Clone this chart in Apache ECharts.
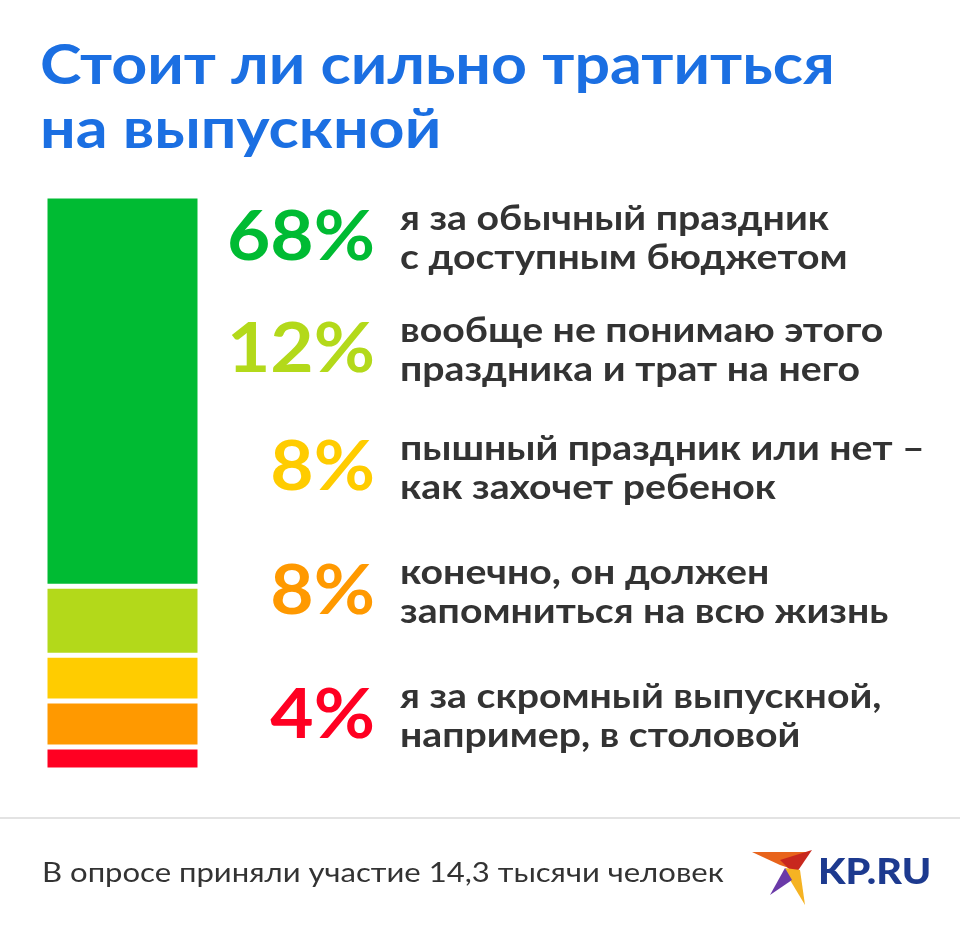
<!DOCTYPE html>
<html>
<head>
<meta charset="utf-8">
<script src="https://cdn.jsdelivr.net/npm/echarts@6/dist/echarts.min.js"></script>
<style>html,body{margin:0;padding:0;background:#fff}#main{width:960px;height:940px}</style>
</head>
<body>
<div id="main"></div>
<script>
var answers = [
  ['я за обычный праздник', 'с доступным бюджетом'],
  ['вообще не понимаю этого', 'праздника и трат на него'],
  ['пышный праздник или нет –', 'как захочет ребенок'],
  ['конечно, он должен', 'запомниться на всю жизнь'],
  ['я за скромный выпускной,', 'например, в столовой']
];
var values = [68, 12, 8, 8, 4];
var colors = ['#00bb33', '#b3d91a', '#ffcc00', '#ff9900', '#ff0022'];
var labelY = [238, 350, 468, 592, 716];

var myChart = echarts.init(document.getElementById('main'));

var series = values.map(function (v, i) {
  return {
    type: 'bar', stack: 'all', barWidth: '100%', silent: true,
    data: [v],
    itemStyle: { color: colors[i], borderColor: '#fff', borderWidth: 2.5 }
  };
});

var graphics = [
  { type: 'text', x: 40, y: 34, scaleX: 1.12, style: { x: 0, y: 0, text: 'Стоит ли сильно тратиться\nна выпускной', fill: '#1b6fe2', font: 'bold 56px Lato', lineHeight: 64 } },
  { type: 'rect', shape: { x: 0, y: 817, width: 960, height: 2 }, style: { fill: '#e3e3e3' } },
  { type: 'text', x: 42, y: 873, scaleX: 1.15, style: { x: 0, y: 0, text: 'В опросе приняли участие 14,3 тысячи человек', fill: '#333', font: '27px Lato', verticalAlign: 'middle' } },
  { type: 'text', x: 818, y: 872, scaleX: 1.1, style: { x: 0, y: 0, text: 'KP.RU', fill: '#1d3a8f', font: '900 36px Lato', verticalAlign: 'middle' } },
  { type: 'polygon', shape: { points: [[752, 852], [810, 852], [795, 870], [780, 865]] }, style: { fill: '#e8641c' } },
  { type: 'polygon', shape: { points: [[780, 860], [812, 850], [795, 875]] }, style: { fill: '#c8281e' } },
  { type: 'polygon', shape: { points: [[785, 868], [800, 870], [805, 905], [790, 880]] }, style: { fill: '#f5b323' } },
  { type: 'polygon', shape: { points: [[785, 868], [792, 880], [770, 895]] }, style: { fill: '#6a3aa8' } }
];
values.forEach(function (v, i) {
  graphics.push({ type: 'text', x: 375, y: labelY[i], scaleX: 1.1, style: { x: 0, y: 0, text: v + '%', fill: colors[i], font: 'bold 68px Lato', align: 'right', verticalAlign: 'middle' } });
  graphics.push({ type: 'text', x: 400, y: labelY[i], scaleX: 1.12, style: { x: 0, y: 0, text: answers[i].join('\n'), fill: '#333', font: 'bold 35px Lato', lineHeight: 39, verticalAlign: 'middle' } });
});

var option = {
  animation: false,
  grid: { left: 45, top: 196, width: 155, height: 574 },
  xAxis: { type: 'category', data: [''], show: false },
  yAxis: { type: 'value', min: 0, max: 100, inverse: true, show: false },
  series: series,
  graphic: graphics
};
myChart.setOption(option);
</script>
</body>
</html>
